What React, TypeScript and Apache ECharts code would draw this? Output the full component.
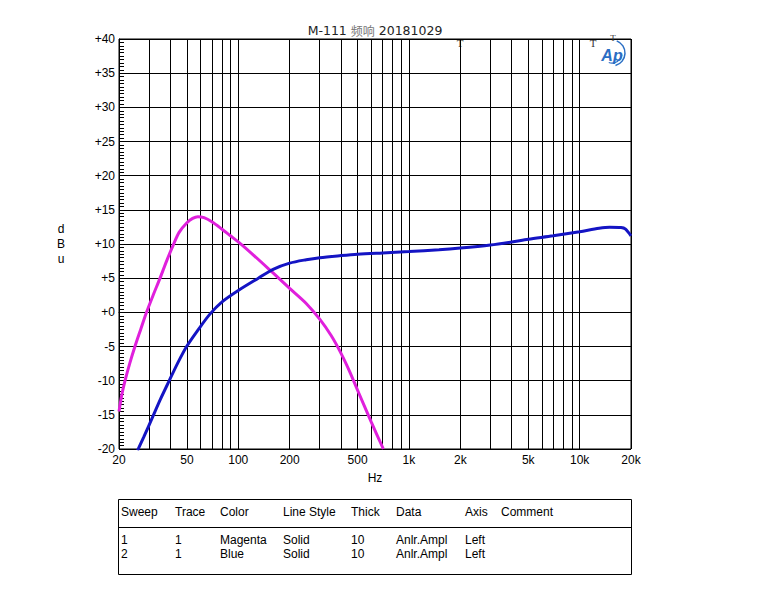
import React, { useEffect, useRef } from "react";
import * as echarts from "echarts";

// ---- data ----
const magentaFreq = [20, 20.8, 21.7, 23.1, 24.8, 26.8, 29, 31.7, 34.8, 38, 41.5, 45, 50, 54, 58, 63, 70, 80, 90, 100, 125, 153, 200, 250, 300, 350, 400, 450, 500, 600, 708];
const magentaDb = [-14.5, -12, -10, -7.5, -5, -2.5, 0, 2.5, 5, 7.5, 9.8, 11.7, 13.1, 13.75, 14.0, 13.85, 13.25, 12.2, 11.2, 10.3, 8.2, 6.2, 3.5, 1.3, -1.0, -3.4, -6.0, -8.7, -11.4, -16.0, -20];
const blueFreq = [25.7, 28, 31.5, 35, 39.4, 44, 49.8, 58, 68, 80, 100, 131, 160, 200, 250, 300, 400, 500, 700, 1000, 1500, 2000, 3000, 4000, 5000, 7000, 10000, 13000, 15000, 17500, 18500, 20000];
const blueDb = [-20.2, -18.2, -15.3, -12.7, -10, -7.5, -5, -2.6, -0.3, 1.5, 3.2, 5.0, 6.3, 7.2, 7.7, 8.0, 8.3, 8.5, 8.7, 8.9, 9.15, 9.4, 9.85, 10.3, 10.7, 11.2, 11.8, 12.3, 12.45, 12.4, 12.2, 11.2];

const xGridValues = [20, 30, 40, 50, 60, 70, 80, 90, 100, 200, 300, 400, 500, 600, 700, 800, 900, 1000, 2000, 3000, 4000, 5000, 6000, 7000, 8000, 9000, 10000, 20000];
const xLabelValues = [20, 50, 100, 200, 500, 1000, 2000, 5000, 10000, 20000];

const titleMain = "M-111";
const titleCn = "频响";
const titleDate = "20181029";

const tableHeaders = ["Sweep", "Trace", "Color", "Line Style", "Thick", "Data", "Axis", "Comment"];
const tableRow1 = ["1", "1", "Magenta", "Solid", "10", "Anlr.Ampl", "Left"];
const tableRow2 = ["2", "1", "Blue", "Solid", "10", "Anlr.Ampl", "Left"];

const FONT = "'Liberation Sans', Arial, sans-serif";

export default function App() {
  const ref = useRef<HTMLDivElement>(null);
  useEffect(() => {
    if (!ref.current) return;
    const chart = echarts.init(ref.current, null, { renderer: "svg" });
    const colX = [121, 175, 220, 283, 351, 396, 465, 501];
    const tableTexts: any[] = [];
    tableHeaders.forEach((t, i) =>
      tableTexts.push({ type: "text", x: colX[i], y: 512, style: { text: t, fill: "#000", font: `12px ${FONT}`, textVerticalAlign: "middle" } })
    );
    tableRow1.forEach((t, i) =>
      tableTexts.push({ type: "text", x: colX[i], y: 540, style: { text: t, fill: "#000", font: `12px ${FONT}`, textVerticalAlign: "middle" } })
    );
    tableRow2.forEach((t, i) =>
      tableTexts.push({ type: "text", x: colX[i], y: 554, style: { text: t, fill: "#000", font: `12px ${FONT}`, textVerticalAlign: "middle" } })
    );

    const option: any = {
      animation: false,
      backgroundColor: "#fff",
      grid: { left: 119, top: 39, right: 140, bottom: 150, show: true, borderColor: "#000", borderWidth: 1 },
      xAxis: {
        type: "log",
        logBase: 10,
        min: 20,
        max: 20000,
        name: "Hz",
        nameLocation: "middle",
        nameGap: 23,
        nameTextStyle: { color: "#000", fontSize: 12, fontFamily: FONT },
        axisLine: { show: true, lineStyle: { color: "#000" } },
        axisTick: { show: false, customValues: xGridValues },
        axisLabel: {
          customValues: xLabelValues,
          color: "#000",
          fontSize: 12,
          fontFamily: FONT,
          margin: 5,
          formatter: (v: number) => {
            const r = Math.round(v);
            return r >= 1000 ? r / 1000 + "k" : String(r);
          },
        },
        splitLine: { show: true, lineStyle: { color: "#000", width: 1 } },
        minorTick: { show: false },
      },
      yAxis: {
        type: "value",
        min: -20,
        max: 40,
        interval: 5,
        axisLine: { show: true, lineStyle: { color: "#000" } },
        axisTick: { show: true, inside: true, length: 5, lineStyle: { color: "#000" } },
        minorTick: { show: true, splitNumber: 10, length: 5, lineStyle: { color: "#000" } },
        axisLabel: {
          color: "#000",
          fontSize: 12,
          fontFamily: FONT,
          margin: 4,
          formatter: (v: number) => (v >= 0 ? "+" + v : String(v)),
        },
        splitLine: { show: true, lineStyle: { color: "#000", width: 1 } },
      },
      series: [
        {
          type: "line",
          name: "Magenta",
          data: magentaFreq.map((f, i) => [f, magentaDb[i]]),
          showSymbol: false,
          smooth: 0.3,
          clip: true,
          lineStyle: { color: "#e020dc", width: 3 },
          itemStyle: { color: "#e020dc" },
          z: 3,
        },
        {
          type: "line",
          name: "Blue",
          data: blueFreq.map((f, i) => [f, blueDb[i]]),
          showSymbol: false,
          smooth: 0.3,
          clip: true,
          lineStyle: { color: "#1414c4", width: 3 },
          itemStyle: { color: "#1414c4" },
          z: 4,
        },
      ],
      graphic: [
        {
          type: "text",
          x: 375,
          y: 30,
          style: {
            text: `{a|${titleMain} }{b|${titleCn}}{a| ${titleDate}}`,
            textAlign: "center",
            textVerticalAlign: "middle",
            rich: {
              a: { fontSize: 12.5, fontFamily: "'DejaVu Sans', sans-serif", fill: "#222" },
              b: { fontSize: 12, fontFamily: "'Noto Sans CJK SC', sans-serif", fill: "#777" },
            },
          },
        },
        {
          type: "text",
          x: 61,
          y: 244,
          style: { text: "d\nB\nu", fill: "#000", font: `12px ${FONT}`, textAlign: "center", textVerticalAlign: "middle", lineHeight: 15 },
        },
        { type: "text", x: 460, y: 43, style: { text: "T", fill: "#333", font: `11px 'Liberation Serif', serif`, textAlign: "center", textVerticalAlign: "middle" } },
        { type: "text", x: 593, y: 43, style: { text: "T", fill: "#333", font: `11px 'Liberation Serif', serif`, textAlign: "center", textVerticalAlign: "middle" } },
        { type: "text", x: 613, y: 38, z: 10, style: { text: "T", fill: "#333", font: `9px 'Liberation Serif', serif`, textAlign: "center", textVerticalAlign: "middle" } },
        {
          type: "text",
          x: 612,
          y: 55,
          z: 10,
          style: { text: "Ap", fill: "#2a6ec4", font: `italic bold 16px ${FONT}`, textAlign: "center", textVerticalAlign: "middle" },
        },
        {
          type: "arc",
          z: 10,
          shape: { cx: 612, cy: 53, r: 13, startAngle: -1.2, endAngle: 1.3 },
          style: { stroke: "#2a6ec4", lineWidth: 1.5, fill: "none" },
        },
        {
          type: "arc",
          z: 10,
          shape: { cx: 612, cy: 53, r: 10, startAngle: 0.2, endAngle: 1.9 },
          style: { stroke: "#2a6ec4", lineWidth: 1.2, fill: "none" },
        },
        {
          type: "rect",
          shape: { x: 118.5, y: 499.5, width: 513, height: 75 },
          style: { fill: "none", stroke: "#000", lineWidth: 1 },
        },
        {
          type: "line",
          shape: { x1: 118.5, y1: 527.5, x2: 631.5, y2: 527.5 },
          style: { stroke: "#000", lineWidth: 1 },
        },
        ...tableTexts,
      ],
    };
    chart.setOption(option);
    return () => chart.dispose();
  }, []);
  return <div ref={ref} style={{ position: "fixed", left: 0, top: 0, width: 771, height: 599 }} />;
}
